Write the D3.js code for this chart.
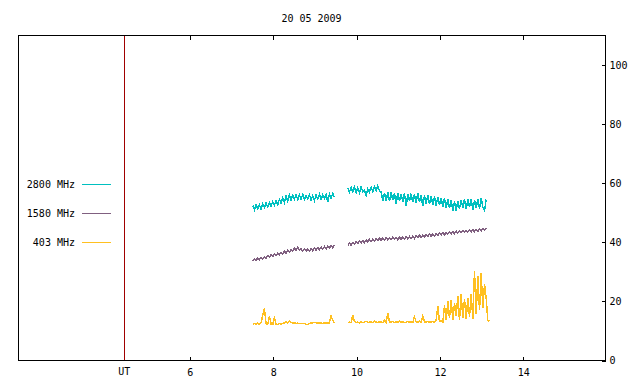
<!DOCTYPE html>
<html>
<head>
<meta charset="utf-8">
<script src="https://cdn.jsdelivr.net/npm/d3@7"></script>
<style>
  body { margin: 0; background: #fff; }
  svg { display: block; font-family: "DejaVu Sans Mono", monospace; font-size: 10px; }
</style>
</head>
<body>
<svg width="640" height="384"></svg>
<script>
// segment start times (UT hours) and sampling step
var segStart = [7.52, 9.80];
var step = 0.04;
var utLine = 4.44;
var xTicks = [6, 8, 10, 12, 14];
var yTicks = [0, 20, 40, 60, 80, 100];

var teal1 = [52.3, 50.9, 52.5, 51.2, 52.6, 51.0, 52.9, 51.6, 53.1, 51.8,
  53.3, 52.1, 53.6, 52.3, 54.0, 52.6, 54.4, 53.1, 54.9, 53.4,
  55.6, 53.8, 55.9, 54.2, 55.8, 54.4, 55.9, 54.3, 55.8, 54.5,
  56.0, 54.3, 55.7, 54.6, 55.9, 54.2, 55.6, 54.0, 55.8, 54.5,
  56.1, 54.4, 55.9, 54.6, 56.0, 53.6, 56.2, 54.7, 56.4, 55.0];
var teal2 = [58.2, 56.8, 58.4, 56.9, 58.5, 56.7, 58.3, 56.6, 58.6, 57.0,
  57.4, 55.8, 57.9, 56.9, 58.5, 57.0, 58.7, 57.2, 58.9, 57.3,
  56.9, 54.0, 56.6, 53.8, 56.7, 53.7, 56.8, 54.1, 56.4, 52.7,
  56.6, 53.9, 56.2, 53.6, 56.4, 52.1, 56.1, 53.8,
  56.3, 53.4, 56.0, 53.1, 56.5, 53.4, 55.9, 52.0, 55.7, 53.0,
  55.8, 52.7, 55.5, 52.6, 55.3, 52.3, 55.2, 52.6,
  54.8, 51.9, 54.7, 51.6, 54.4, 51.4, 54.1, 50.6, 53.7, 50.5, 53.9,
  51.2, 54.2, 51.4, 54.4, 51.0, 54.3, 51.7, 54.6, 50.8, 54.1,
  51.5, 54.5, 51.2, 54.7, 51.7, 50.6, 54.3];

var purple1 = [33.4, 34.2, 33.7, 34.5, 33.9, 34.8, 34.2, 35.0, 34.5, 35.3,
  34.8, 35.6, 35.0, 35.9, 35.3, 36.2, 35.6, 36.5, 35.9, 36.8,
  36.2, 37.1, 36.5, 37.4, 36.9, 37.8, 37.1, 38.2, 37.3, 37.6,
  36.8, 37.6, 36.9, 37.5, 36.9, 37.7, 37.0, 37.9, 37.2, 38.0,
  37.3, 38.2, 37.5, 38.4, 37.6, 38.6, 37.9, 38.8, 38.0, 39.0];
var purple2 = [38.7, 39.5, 38.9, 39.7, 39.2, 40.0, 39.4, 40.2, 39.6, 40.4,
  39.8, 40.6, 40.0, 40.8, 40.1, 40.9, 40.3, 41.1, 40.4, 41.2,
  40.5, 41.3, 40.6, 41.4, 40.7, 41.4, 40.7, 41.5, 40.8, 41.4,
  40.7, 41.5, 40.9, 41.6, 40.9, 41.7, 41.0, 41.8, 41.1, 41.9,
  41.2, 42.0, 41.4, 42.2, 41.5, 42.3, 41.7, 42.5, 41.8, 42.6,
  41.9, 42.7, 42.0, 42.8, 42.2, 43.0, 42.3, 43.1, 42.4, 43.2,
  42.6, 43.3, 42.7, 43.5, 42.8, 43.6, 43.0, 43.7, 43.1, 43.8,
  43.2, 43.9, 43.3, 44.0, 43.4, 44.1, 43.5, 44.2, 43.6, 44.4,
  43.7, 44.5, 43.9, 44.6];

var orange1 = [12.0, 12.4, 12.2, 12.5, 12.1, 12.6, 15.2, 17.5, 12.3, 12.1,
  14.9, 12.2, 12.0, 14.2, 12.1, 12.0, 12.3, 12.2, 12.4, 12.5,
  13.0, 12.6, 13.1, 12.7, 12.5, 12.6, 12.4, 12.5, 12.3, 12.4,
  12.4, 12.3, 12.1, 12.0, 12.3, 12.5, 12.6, 12.7, 12.6, 12.5,
  12.6, 12.5, 12.4, 12.5, 12.6, 12.5, 12.6, 14.9, 13.4, 12.6];
var orange2 = [12.6, 12.8, 12.7, 15.2, 13.0, 12.7, 12.8, 12.6, 12.9, 12.7,
  12.8, 13.1, 12.7, 12.8, 12.9, 12.7, 13.3, 12.8, 12.7, 12.9,
  12.8, 12.7, 13.4, 12.8, 16.0, 12.9, 12.8, 13.0, 12.7, 12.9,
  12.8, 13.2, 12.8, 12.9, 12.7, 12.8, 13.0, 12.8, 12.9, 12.7,
  14.6, 12.9, 12.8, 13.1, 12.8, 14.9, 12.9, 12.8, 13.0, 12.8,
  12.9, 13.1, 12.8, 13.4, 18.2, 13.0, 13.3, 12.9,
  18.5, 13.4, 19.8, 14.2, 20.3, 13.6, 19.1, 15.0, 21.6, 13.5,
  22.2, 14.1, 20.5, 13.8, 21.0, 14.6, 22.2, 13.9, 30.0, 15.5,
  28.4, 16.8, 29.3, 17.5, 25.6, 21.0, 13.3, 13.2];

var series = [
  { name: "2800 MHz", color: "#00c0c0", segs: [teal1, teal2] },
  { name: "1580 MHz", color: "#806080", segs: [purple1, purple2] },
  { name: "403 MHz",  color: "#ffc020", segs: [orange1, orange2] }
];

var svg = d3.select("svg");
var margin = { top: 35, right: 35, bottom: 24, left: 18 };
var W = 640, H = 384;
var x = d3.scaleLinear().domain([1.89, 15.97]).range([margin.left, W - margin.right]);
var y = d3.scaleLinear().domain([0, 110]).range([H - margin.bottom, margin.top]);

svg.append("text")
  .attr("x", (margin.left + W - margin.right) / 2)
  .attr("y", 22)
  .attr("text-anchor", "middle")
  .text("20 05 2009");

// data
var line = d3.line()
  .x(function(d) { return x(d.t); })
  .y(function(d) { return y(d.v); });

series.forEach(function(s) {
  s.segs.forEach(function(vals, k) {
    var pts = vals.map(function(v, i) { return { t: segStart[k] + i * step, v: v }; });
    svg.append("path")
      .datum(pts)
      .attr("fill", "none")
      .attr("stroke", s.color)
      .attr("stroke-width", 1.5)
      .attr("shape-rendering", "crispEdges")
      .attr("d", line);
  });
});

// UT marker
svg.append("line")
  .attr("x1", Math.round(x(utLine)) + 0.5).attr("x2", Math.round(x(utLine)) + 0.5)
  .attr("y1", y(110)).attr("y2", y(0))
  .attr("stroke", "#a00000")
  .attr("stroke-width", 1);

// frame
svg.append("rect")
  .attr("x", margin.left + 0.5).attr("y", margin.top + 0.5)
  .attr("width", W - margin.right - margin.left).attr("height", H - margin.bottom - margin.top)
  .attr("fill", "none").attr("stroke", "#000").attr("shape-rendering", "crispEdges");

var xAxis = d3.axisBottom(x).tickValues(xTicks).tickSize(-4).tickPadding(8).tickFormat(d3.format("d"));
var gx = svg.append("g").attr("transform", "translate(0.5," + (H - margin.bottom + 0.5) + ")").call(xAxis);
var gxTop = svg.append("g").attr("transform", "translate(0.5," + (margin.top + 0.5) + ")")
  .call(d3.axisTop(x).tickValues(xTicks).tickSize(-4).tickFormat(""));
var yAxis = d3.axisRight(y).tickValues(yTicks).tickSize(-4).tickPadding(4);
var gy = svg.append("g").attr("transform", "translate(" + (W - margin.right + 0.5) + ",0.5)").call(yAxis);

[gx, gxTop, gy].forEach(function(g) {
  g.select(".domain").remove();
  g.selectAll("line").attr("stroke", "#000").attr("shape-rendering", "crispEdges");
  g.selectAll("text").attr("fill", "#000").style("font-family", "DejaVu Sans Mono, monospace").style("font-size", "10px");
});

// UT label under the marker
svg.append("text")
  .attr("x", x(utLine))
  .attr("y", H - margin.bottom + 15)
  .attr("text-anchor", "middle")
  .text("UT");

// legend
series.forEach(function(s, i) {
  var ly = 184 + i * 29;
  svg.append("text")
    .attr("x", 75).attr("y", ly).attr("dy", "0.35em")
    .attr("text-anchor", "end")
    .text(s.name);
  svg.append("line")
    .attr("x1", 82).attr("x2", 111)
    .attr("y1", ly + 0.5).attr("y2", ly + 0.5)
    .attr("stroke", s.color);
});
</script>
</body>
</html>
